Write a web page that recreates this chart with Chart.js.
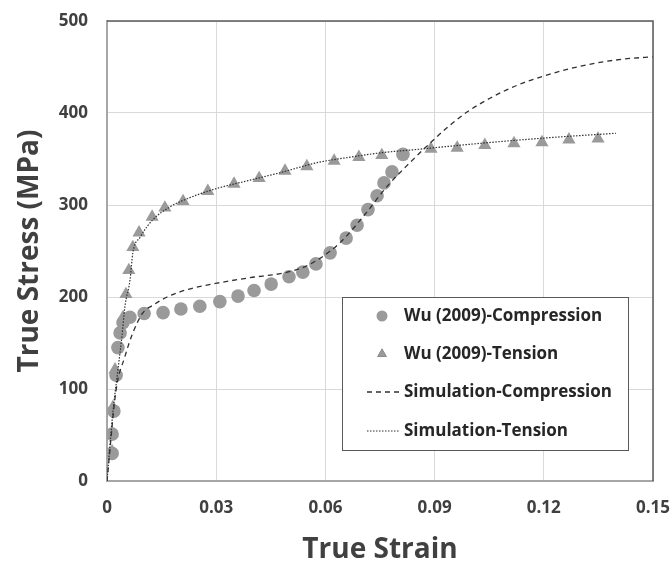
<!DOCTYPE html>
<html>
<head>
<meta charset="utf-8">
<script src="https://cdn.jsdelivr.net/npm/chart.js@4.4.0/dist/chart.umd.min.js"></script>
<style>
  html, body { margin: 0; padding: 0; background: #fff; }
</style>
</head>
<body>
<canvas id="stressChart" width="671" height="564"></canvas>
<script>
const compStrain = [0.0014, 0.0014, 0.0019, 0.0025, 0.0030, 0.0036, 0.0044, 0.0063, 0.0102, 0.0154, 0.0203, 0.0255,
                    0.0310, 0.0360, 0.0404, 0.0451, 0.0500, 0.0538, 0.0574, 0.0613, 0.0657, 0.0687, 0.0717, 0.0742,
                    0.0761, 0.0783, 0.0813];
const compStress = [30, 51, 76, 115, 145, 161, 172, 178, 182, 183, 187, 190,
                    195, 201, 207, 214, 222, 227, 236, 248, 264, 278, 295, 310,
                    324, 336, 355];

const tensStrain = [0.0014, 0.0014, 0.0016, 0.0022, 0.0044, 0.0052, 0.0060, 0.0071, 0.0088, 0.0124, 0.0159, 0.0209,
                    0.0277, 0.0349, 0.0418, 0.0489, 0.0549, 0.0624, 0.0692, 0.0755, 0.0890, 0.0962, 0.1038,
                    0.1118, 0.1195, 0.1269, 0.1349];
const tensStress = [32, 52, 80, 121, 178, 203, 229, 254, 270, 287, 297, 304,
                    315, 323, 329, 337, 342, 348, 352, 354, 361, 362, 365,
                    367, 368, 371, 372];

// Simulation curves
const simCompStrain = [0, 0.0025, 0.0049, 0.0071, 0.0099, 0.0126, 0.0165, 0.0220, 0.0302, 0.0393, 0.0484, 0.0538,
                       0.0585, 0.0640, 0.0703, 0.0769, 0.0832, 0.0887, 0.0934, 0.0989, 0.1052, 0.1126, 0.1198,
                       0.1280, 0.1354, 0.1429, 0.15];
const simCompStress = [0, 99, 135, 161, 183, 191, 200, 208, 215, 221, 226, 232,
                       242, 259, 287, 320, 346, 367, 384, 401, 416, 430, 440,
                       449, 455, 459, 461];

const simTensStrain = [0, 0.0016, 0.0030, 0.0041, 0.0049, 0.0063, 0.0071, 0.0091, 0.0126, 0.0173, 0.0228, 0.0302,
                       0.0393, 0.0484, 0.0577, 0.0668, 0.0758, 0.0841, 0.1025, 0.1209, 0.1398];
const simTensStress = [0, 74, 121, 157, 189, 218, 248, 265, 284, 298, 308, 318,
                       327, 336, 346, 352, 357, 360, 367, 373, 378];

const xTicks = [0, 0.03, 0.06, 0.09, 0.12, 0.15];
const yTicks = [0, 100, 200, 300, 400, 500];

const seriesNames = ['Wu (2009)-Compression', 'Wu (2009)-Tension', 'Simulation-Compression', 'Simulation-Tension'];

const toPoints = (xs, ys) => xs.map((x, i) => ({ x: x, y: ys[i] }));

const markerGrey = '#9a9a9a';
const lineDark = '#303030';
const labelFont = 'Open Sans';

// top + right frame lines like the Excel plot area border
const plotFrame = {
  id: 'plotFrame',
  afterDatasetsDraw(chart) {
    const { ctx, chartArea: a } = chart;
    ctx.save();
    ctx.strokeStyle = '#5a5a5a';
    ctx.lineWidth = 1.5;
    ctx.beginPath();
    ctx.moveTo(a.left, a.top);
    ctx.lineTo(a.right, a.top);
    ctx.lineTo(a.right, a.bottom);
    ctx.stroke();
    ctx.restore();
  }
};

// legend box sitting inside the plot area
const insideLegend = {
  id: 'insideLegend',
  afterDraw(chart) {
    const { ctx, chartArea: a } = chart;
    const x0 = a.left + 235, y0 = a.top + 276, w = 286, h = 153;
    const rows = [19, 57, 95, 134];
    ctx.save();
    ctx.fillStyle = '#fff';
    ctx.fillRect(x0, y0, w, h);
    ctx.strokeStyle = '#595959';
    ctx.lineWidth = 1;
    ctx.strokeRect(x0 + 0.5, y0 + 0.5, w, h);

    chart.data.datasets.forEach((ds, i) => {
      const y = y0 + rows[i];
      if (ds.showLine) {
        ctx.strokeStyle = ds.borderColor;
        ctx.lineWidth = ds.borderWidth;
        ctx.setLineDash(ds.borderDash);
        ctx.beginPath();
        ctx.moveTo(x0 + 25, y);
        ctx.lineTo(x0 + 57, y);
        ctx.stroke();
        ctx.setLineDash([]);
      } else {
        Chart.helpers.drawPoint(ctx, { pointStyle: ds.pointStyle, radius: 5.5, borderWidth: 0 }, x0 + 40, y);
        ctx.fillStyle = ds.backgroundColor;
        ctx.fill();
      }
      ctx.fillStyle = '#262626';
      ctx.font = 'bold 17px "' + labelFont + '"';
      ctx.textBaseline = 'middle';
      ctx.textAlign = 'left';
      ctx.fillText(ds.label, x0 + 62, y);
    });
    ctx.restore();
  }
};

const ctx = document.getElementById('stressChart');
new Chart(ctx, {
  type: 'scatter',
  data: {
    datasets: [
      {
        label: seriesNames[0],
        data: toPoints(compStrain, compStress),
        pointStyle: 'circle',
        pointRadius: 6.8,
        pointBorderWidth: 0,
        backgroundColor: markerGrey,
        borderColor: markerGrey,
        order: 1
      },
      {
        label: seriesNames[1],
        data: toPoints(tensStrain, tensStress),
        pointStyle: 'triangle',
        pointRadius: 7.6,
        pointBorderWidth: 0,
        backgroundColor: markerGrey,
        borderColor: markerGrey,
        order: 2
      },
      {
        label: seriesNames[2],
        data: toPoints(simCompStrain, simCompStress),
        showLine: true,
        pointRadius: 0,
        borderColor: lineDark,
        borderWidth: 1.3,
        borderDash: [5, 4],
        cubicInterpolationMode: 'monotone',
        order: 0
      },
      {
        label: seriesNames[3],
        data: toPoints(simTensStrain, simTensStress),
        showLine: true,
        pointRadius: 0,
        borderColor: lineDark,
        borderWidth: 1.2,
        borderDash: [1.5, 1.5],
        cubicInterpolationMode: 'monotone',
        order: 0
      }
    ]
  },
  options: {
    responsive: false,
    animation: false,
    layout: { padding: { top: 21, right: 18, left: 0, bottom: 0 } },
    plugins: {
      legend: { display: false },
      tooltip: { enabled: false }
    },
    scales: {
      x: {
        type: 'linear',
        min: 0,
        max: 0.15,
        afterBuildTicks: (scale) => { scale.ticks = xTicks.map(v => ({ value: v })); },
        afterFit: (scale) => {
          scale.height = 83;
          scale.paddingLeft = 0;
          scale.paddingRight = 0;
        },
        grid: { color: '#d9d9d9', lineWidth: 1, drawTicks: false },
        border: { color: '#a6a6a6', width: 2 },
        ticks: {
          padding: 17,
          color: '#404040',
          font: { family: labelFont, size: 17, weight: 'bold' },
          callback: (v) => String(Number(v.toFixed(2)))
        },
        title: {
          display: true,
          text: 'True Strain',
          color: '#404040',
          font: { family: labelFont, size: 28, weight: 'bold', lineHeight: 1 },
          padding: { top: 0, bottom: 0 }
        }
      },
      y: {
        type: 'linear',
        min: 0,
        max: 500,
        afterBuildTicks: (scale) => { scale.ticks = yTicks.map(v => ({ value: v })); },
        afterFit: (scale) => {
          scale.width = 107;
          scale.paddingTop = 0;
          scale.paddingBottom = 0;
        },
        grid: { color: '#d9d9d9', lineWidth: 1, drawTicks: false },
        border: { color: '#a6a6a6', width: 2 },
        ticks: {
          padding: 19,
          color: '#404040',
          font: { family: labelFont, size: 17, weight: 'bold' }
        },
        title: {
          display: true,
          text: 'True Stress (MPa)',
          color: '#404040',
          font: { family: labelFont, size: 28, weight: 'bold', lineHeight: 1 },
          padding: { top: 16, bottom: 0 }
        }
      }
    }
  },
  plugins: [plotFrame, insideLegend]
});
</script>
</body>
</html>
